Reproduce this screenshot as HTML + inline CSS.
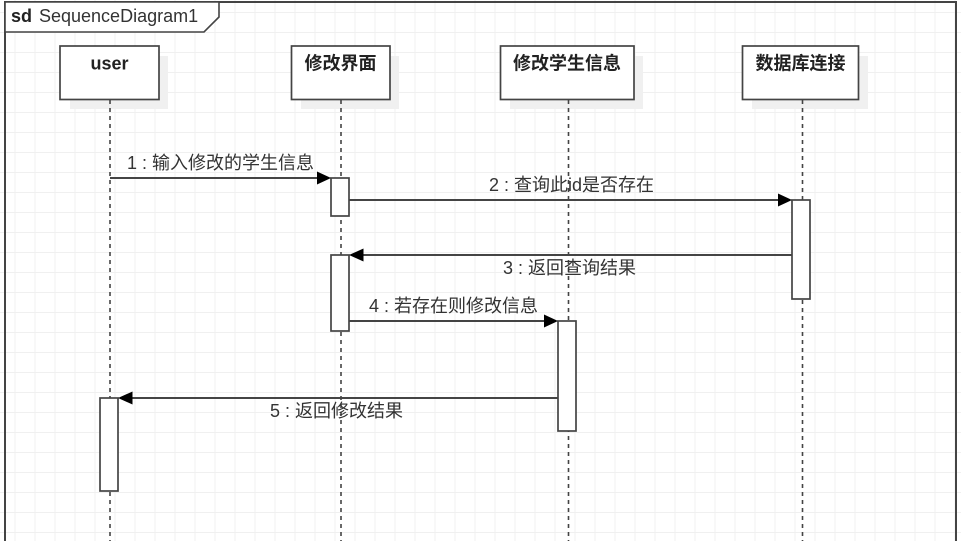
<!DOCTYPE html>
<html><head><meta charset="utf-8">
<style>
html,body{margin:0;padding:0;background:#fff}
svg{display:block}
text{font-family:"Liberation Sans","Noto Sans CJK SC",sans-serif;font-size:18px;fill:#333}
.b{font-weight:bold;fill:#222;text-anchor:middle}
</style></head>
<body>
<svg width="961" height="541" viewBox="0 0 961 541" xmlns="http://www.w3.org/2000/svg">
<defs>
<pattern id="g" x="14.5" y="12" width="20" height="20" patternUnits="userSpaceOnUse">
<path d="M0 0V20M0 0H20" stroke="#f0f0f0" stroke-width="2" fill="none" shape-rendering="crispEdges"/>
</pattern>
</defs>
<rect width="961" height="541" fill="#fff"/>
<rect width="961" height="541" fill="url(#g)"/>

<!-- frame -->
<path d="M5 542V2H956V542" fill="none" stroke="#444" stroke-width="2"/>
<path d="M5 2H219V17L204 32H5Z" fill="#fff" stroke="#444" stroke-width="1.6"/>
<text x="11" y="22" style="font-weight:bold;fill:#222">sd</text>
<text x="39" y="22">SequenceDiagram1</text>

<!-- shadows -->
<g fill="#f0f0f0">
<rect x="70" y="56" width="98" height="53"/>
<rect x="301" y="56" width="98" height="53"/>
<rect x="510" y="56" width="133" height="53"/>
<rect x="752" y="56" width="116" height="53"/>
</g>

<!-- lifelines -->
<g stroke="#444" stroke-width="1.6" stroke-dasharray="4 4">
<line x1="110" y1="100" x2="110" y2="541"/>
<line x1="341" y1="100" x2="341" y2="541"/>
<line x1="568.5" y1="100" x2="568.5" y2="541"/>
<line x1="802.5" y1="100" x2="802.5" y2="541"/>
</g>

<!-- heads -->
<g fill="#fff" stroke="#444" stroke-width="1.7">
<rect x="60" y="46" width="99" height="53.500"/>
<rect x="291.500" y="46" width="98.500" height="53.500"/>
<rect x="500.500" y="46" width="133.500" height="53.500"/>
<rect x="742.500" y="46" width="116" height="53.500"/>
</g>
<text class="b" x="109.500" y="69.500">user</text>
<text class="b" x="340.500" y="69.500">修改界面</text>
<text class="b" x="567" y="69.500">修改学生信息</text>
<text class="b" x="800.500" y="69.500">数据库连接</text>

<!-- activations -->
<g fill="#fff" stroke="#444" stroke-width="1.7">
<rect x="331" y="178" width="18" height="38"/>
<rect x="792" y="200" width="18" height="99"/>
<rect x="331" y="255" width="18" height="76"/>
<rect x="558" y="321" width="18" height="110"/>
<rect x="100" y="398" width="18" height="93"/>
</g>

<!-- messages -->
<g stroke="#444" stroke-width="2">
<line x1="110" y1="178" x2="318" y2="178"/>
<line x1="349" y1="200" x2="778" y2="200"/>
<line x1="792" y1="255" x2="362" y2="255"/>
<line x1="349" y1="321" x2="544" y2="321"/>
<line x1="558" y1="398" x2="132" y2="398"/>
</g>
<g fill="#000">
<path d="M317 171.500L331 178L317 184.500Z"/>
<path d="M778 193.500L792 200L778 206.500Z"/>
<path d="M363.500 248.500L349 255L363.500 261.500Z"/>
<path d="M544 314.500L558 321L544 327.500Z"/>
<path d="M132.500 391.500L118 398L132.500 404.500Z"/>
</g>

<!-- labels -->
<text x="127" y="169">1 : 输入修改的学生信息</text>
<text x="489" y="191">2 : 查询此id是否存在</text>
<text x="503" y="274">3 : 返回查询结果</text>
<text x="369" y="312">4 : 若存在则修改信息</text>
<text x="270" y="417">5 : 返回修改结果</text>
</svg>
</body></html>
